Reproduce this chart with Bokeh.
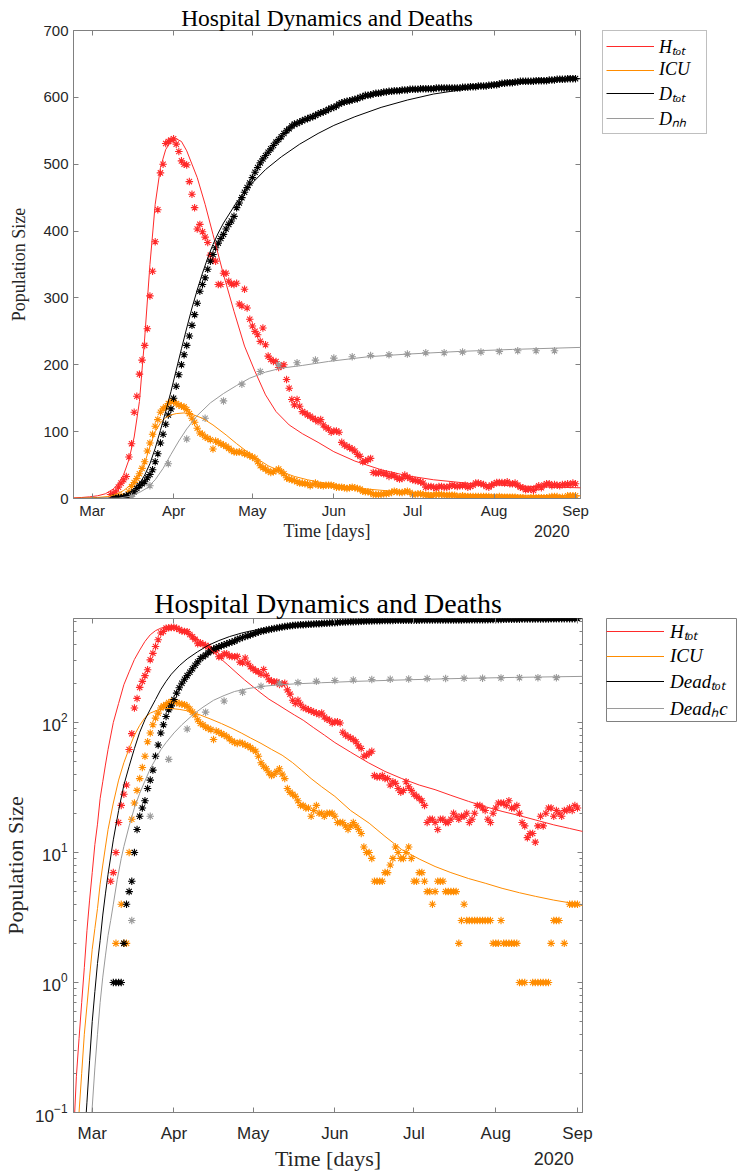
from datetime import datetime, timedelta
from bokeh.plotting import figure
from bokeh.models import (ColumnDataSource, Range1d, FixedTicker, LinearAxis, LogAxis,
                          DatetimeAxis, Legend, LegendItem, Title, DatetimeTickFormatter)
from bokeh.layouts import column, row
from bokeh.embed import file_html
from bokeh.resources import INLINE

# ---------------- data ----------------
BASE = datetime(2020, 3, 1)          # day 0 = 1 March 2020
month_starts = ["2020-03-01", "2020-04-01", "2020-05-01", "2020-06-01",
                "2020-07-01", "2020-08-01", "2020-09-01"]
month_labels = ["Mar", "Apr", "May", "Jun", "Jul", "Aug", "Sep"]
year_label = "2020"
year_label_at = "2020-08-23"
lin_yticks = [0, 100, 200, 300, 400, 500, 600, 700]
log_yticks = [0.1, 1, 10, 100]

# daily observations (first day offset from 1 March)
h_tot_start = 7
h_tot = [6, 7, 10, 17, 23, 28, 33, 62, 82, 129,
         153, 186, 207, 229, 254, 303, 340, 384, 432, 487,
         500, 531, 534, 536, 538, 530, 519, 505, 500, 499,
         474, 455, 435, 403, 410, 399, 391, 383, 364, 356,
         355, 320, 320, 337, 337, 325, 321, 320, 322, 291,
         288, 313, 285, 268, 258, 250, 245, 235, 255, 230,
         213, 208, 205, 205, 196, 198, 200, 178, 165, 148,
         140, 148, 138, 130, 128, 125, 123, 120, 118, 115,
         118, 110, 106, 104, 99, 101, 101, 99, 84, 80,
         78, 76, 74, 71, 66, 63, 55, 56, 58, 60,
         39, 38, 38, 39, 37, 37, 33, 35, 34, 31,
         29, 30, 35, 32, 30, 28, 27, 26, 25, 23,
         17, 18, 18, 17, 15, 18, 18, 17, 17, 18,
         20, 19, 18, 19, 19, 20, 17, 18, 20, 23,
         23, 22, 21, 18, 17, 20, 22, 24, 24, 24,
         23, 25, 22, 22, 23, 20, 17, 16, 13, 14,
         14, 12, 16, 19, 16, 20, 22, 22, 19, 21,
         20, 19, 21, 21, 22, 21, 23, 22]

icu_start = 9
icu = [2, 0, 4, 2, 2, 10, 18, 24, 30, 37,
       45, 55, 71, 83, 96, 108, 118, 129, 134, 137,
       142, 145, 145, 142, 140, 138, 137, 133, 127, 120,
       114, 105, 98, 96, 92, 90, 88, 74, 86, 84,
       82, 80, 78, 75, 72, 70, 69, 70, 69, 67,
       66, 64, 62, 60, 55, 49, 46, 44, 41, 39,
       40, 42, 44, 40, 37, 31, 29, 28, 27, 25,
       23, 23, 22, 22, 19, 21, 23, 20, 20, 19,
       20, 20, 20, 19, 17, 17, 17, 16, 15, 16,
       17, 16, 15, 14, 11, 10, 10, 9, 6, 6,
       6, 6, 7, 7, 8, 9, 11, 10, 9, 9,
       10, 11, 9, 6, 6, 7, 7, 6, 5, 5,
       4, 5, 6, 6, 6, 5, 5, 5, 5, 5,
       2, 3, 4, 3, 3, 3, 3, 3, 3, 3,
       3, 3, 3, 2, 2, 2, 3, 2, 2, 2,
       2, 2, 2, 1, 1, 1, 0, 0, 1, 1,
       1, 1, 1, 1, 1, 2, 3, 3, 3, 0,
       2, 0, 4, 4, 4, 4]

d_tot_start = 8
d_tot = [1, 1, 1, 1, 2, 4, 5, 6, 10, 15,
         19, 22, 25, 31, 36, 43, 55, 67, 83, 96,
         111, 125, 134, 150, 168, 185, 200, 215, 229, 243,
         259, 275, 292, 310, 320, 330, 343, 355, 365, 375,
         382, 389, 395, 403, 410, 415, 422, 435, 442, 450,
         458, 465, 472, 480, 488, 495, 502, 508, 513, 518,
         523, 528, 533, 537, 541, 546, 550, 553, 557, 560,
         561, 563, 565, 567, 568, 570, 571, 573, 575, 577,
         578, 580, 582, 584, 585, 587, 590, 592, 593, 594,
         595, 596, 597, 598, 600, 601, 603, 603, 604, 605,
         606, 606, 607, 608, 608, 609, 609, 610, 610, 610,
         611, 611, 611, 612, 612, 612, 612, 613, 613, 613,
         613, 613, 613, 614, 614, 614, 614, 614, 614, 614,
         614, 614, 614, 615, 615, 615, 616, 616, 616, 617,
         617, 617, 617, 618, 618, 619, 619, 620, 621, 621,
         622, 622, 622, 623, 623, 624, 624, 624, 624, 624,
         624, 625, 625, 625, 625, 625, 626, 626, 626, 627,
         627, 627, 627, 628, 628, 628, 628]

# weekly deaths outside hospital
d_nh_days = [15, 22, 29, 36, 43, 50, 57, 64, 71, 78, 85, 92,
             99, 106, 113, 120, 127, 134, 141, 148, 155, 162, 169, 176]
d_nh = [3, 19, 52, 89, 120, 146, 171, 190, 200, 203, 207, 210,
        212, 214, 215, 216, 218, 218, 219, 219, 220, 221, 221, 221]

# model curves, upper (linear) panel
top_h_days = [-7, -4, -1, 2, 5, 8, 10, 12, 14, 16, 18, 20, 22, 24, 26, 28, 30, 32, 34, 36, 38, 40,
              43, 46, 50, 54, 58, 62, 66, 70, 75, 80, 86, 92, 100, 110, 120, 130, 145, 160, 175, 186]
top_h_vals = [1, 1.5, 2.5, 4, 7, 14, 22, 36, 58, 92, 145, 240, 350, 440, 495, 522, 534, 538, 534, 520,
              500, 480, 440, 395, 335, 280, 228, 190, 155, 130, 110, 97, 84, 70, 56, 43, 34, 28,
              22, 19, 17, 16]
top_icu_days = [-7, -2, 2, 6, 9, 12, 14, 16, 18, 20, 22, 24, 26, 28, 30, 32, 35, 38, 42, 46, 51, 55,
                59, 63, 67, 72, 77, 82, 87, 92, 100, 105, 117, 130, 145, 160, 175, 186]
top_icu_vals = [0.3, 0.8, 1.5, 3, 6, 12, 18, 27, 38, 53, 78, 100, 113, 121, 125, 127, 128, 126, 120,
                110, 95, 82, 70, 59, 49, 40, 33, 28, 24, 21, 16, 14, 10, 8, 6, 5, 4.3, 4]
top_dtot_days = [-7, 6, 10, 14, 18, 20, 22, 24, 26, 28, 30, 32, 34, 36, 38, 40, 42, 44, 46, 48, 50,
                 55, 60, 66, 72, 79, 86, 92, 100, 110, 120, 130, 145, 160, 175, 186]
top_dtot_vals = [0, 0.5, 2, 8, 22, 35, 52, 75, 102, 130, 160, 192, 224, 255, 285, 312, 337, 360,
                 380, 397, 412, 443, 468, 492, 511, 530, 546, 558, 571, 585, 596, 605, 614, 620,
                 625, 628]
top_dnh_days = [-7, 10, 14, 18, 21, 24, 27, 30, 33, 36, 40, 45, 50, 55, 60, 66, 72, 80, 90, 105,
                120, 140, 160, 186]
top_dnh_vals = [0, 0.5, 3, 9, 16, 28, 45, 66, 86, 104, 124, 143, 157, 169, 180, 189, 195, 199, 205,
                212, 216, 220, 223, 226]

# model curves, lower (log) panel
bot_h_days = [-7, -6, -5, -4, -3, -2, -1, 0, 1, 2, 3, 4, 5, 6, 8, 10, 12, 14, 16, 18, 20, 22, 24, 26,
              28, 30, 32, 35, 38.7, 42, 45, 48, 51.4, 54.5, 57.7, 61, 64, 67, 70.4, 73.5, 76.7, 80,
              84, 88, 92, 98, 104.7, 111, 117.4, 124, 130, 136, 142.7, 149, 155.4, 162, 168, 175,
              181, 186]
bot_h_vals = [0.07, 0.19, 0.37, 0.7, 1.3, 2.5, 4.3, 7, 11.5, 16.5, 26, 35, 47, 62, 100, 140, 195,
              245, 305, 360, 420, 472, 508, 531, 542, 545, 538, 510, 458, 410, 363, 318, 277, 243,
              213, 188, 168, 151, 137, 125, 114, 104, 91, 80, 70, 59, 49, 42, 37, 33, 30.4, 27.5,
              24.7, 22.5, 20.7, 19.2, 17.8, 16.3, 15.3, 14.5]
bot_icu_days = [-6, -5, -4, -3, -2, -1, 0, 1, 2, 3, 4, 5, 6, 8, 10, 12, 14, 16, 18, 20, 22, 25, 28,
                30, 33, 36, 41, 45, 49, 53, 56.5, 60, 64, 68, 72, 76, 79.3, 83, 87, 92, 98, 105, 111,
                117.4, 124, 130, 136, 142.7, 149, 155.4, 162, 168, 175, 181, 186]
bot_icu_vals = [0.05, 0.1, 0.2, 0.4, 0.66, 1.1, 1.8, 2.6, 3.7, 5.7, 8, 11, 15, 24, 36, 49, 63, 80,
                95, 109, 118, 125, 128, 128, 126, 123, 114, 106, 98, 90, 83, 76, 69, 62, 56, 49, 43,
                37, 32, 27, 21, 16.8, 13.3, 10.5, 8.9, 7.8, 7, 6.3, 5.8, 5.3, 4.9, 4.6, 4.3, 4.1, 3.9]
bot_dtot_days = [-3, -2, -1, 0, 1, 2, 3, 4, 5, 6, 8, 10, 12, 14, 16, 18, 20, 22, 24, 26, 28, 30, 33,
                 36, 40, 44, 48, 52, 56.5, 60, 64, 70, 76.7, 82, 87, 95, 105, 120, 140, 160, 186]
bot_dtot_vals = [0.06, 0.12, 0.25, 0.5, 0.85, 1.4, 2.1, 3.3, 4.8, 6.8, 12.5, 21, 33, 46, 63, 84, 105,
                 126, 150, 179, 207, 235, 273, 308, 350, 392, 426, 457, 486, 505, 522, 543, 564, 577,
                 588, 599, 609, 617, 623, 626, 629]
bot_dhc_days = [-1, 0, 1, 2, 3, 4, 5, 6, 7, 8, 9.5, 11, 12, 14, 16, 18, 20, 22, 24, 26, 28, 31, 34,
                38.7, 42, 46, 50, 54, 59, 64, 70, 77, 87, 100, 120, 140, 160, 186]
bot_dhc_vals = [0.05, 0.11, 0.22, 0.4, 0.7, 1.1, 1.6, 2.3, 3.0, 4.0, 6.2, 9, 11.1, 16, 22, 28.5, 35.5,
                44, 52, 61.7, 70, 83, 96, 117, 131, 148, 161, 173, 182, 189, 194, 198, 202, 207,
                213, 218, 222, 226]

# ---------------- styling ----------------
RED = "#ff2a2a"
ORANGE = "#ff8c00"
BLACK = "#000000"
GRAY = "#9a9a9a"
COLORS = [RED, ORANGE, BLACK, GRAY]
AXIS_COLOR = "#808080"
TEXT_COLOR = "#262626"
SANS = "Liberation Sans"
SERIF = "Liberation Serif"


def dts(days):
    return [BASE + timedelta(days=float(d)) for d in days]


def ms(s):
    return (datetime.fromisoformat(s) - datetime(1970, 1, 1)).total_seconds() * 1000.0


month_ms = [ms(s) for s in month_starts]
year_ms = ms(year_label_at)
log_minor = [m * 10.0 ** e for e in (-1, 0, 1, 2) for m in range(2, 10) if m * 10.0 ** e < 640]


def month_formatter():
    return DatetimeTickFormatter(days="%b", months="%b", years="%b", hours="%b",
                                 hourmin="%b", minutes="%b", minsec="%b", seconds="%b")


def series(start, vals, positive_only=False):
    days = list(range(start, start + len(vals)))
    if positive_only:
        pairs = [(d, v) for d, v in zip(days, vals) if v > 0]
        days = [p[0] for p in pairs]
        vals = [p[1] for p in pairs]
    return ColumnDataSource(dict(x=dts(days), y=vals))


def style_axis(ax, tick_size, label_size, label_standoff, major_standoff):
    ax.axis_line_color = AXIS_COLOR
    ax.major_tick_line_color = AXIS_COLOR
    ax.minor_tick_line_color = AXIS_COLOR
    ax.major_tick_in = 5
    ax.major_tick_out = 0
    ax.minor_tick_in = 3
    ax.minor_tick_out = 0
    ax.major_label_text_font = SANS
    ax.major_label_text_font_size = f"{tick_size}px"
    ax.major_label_text_color = TEXT_COLOR
    ax.major_label_standoff = major_standoff
    ax.axis_label_text_font = SERIF
    ax.axis_label_text_font_style = "normal"
    ax.axis_label_text_font_size = f"{label_size}px"
    ax.axis_label_text_color = TEXT_COLOR
    ax.axis_label_standoff = label_standoff


def ghost_axis(ax):
    ax.axis_line_color = None
    ax.major_tick_line_color = AXIS_COLOR
    ax.minor_tick_line_color = AXIS_COLOR
    ax.major_tick_in = 5
    ax.major_tick_out = 0
    ax.minor_tick_in = 3
    ax.minor_tick_out = 0
    ax.major_label_text_font_size = "1px"
    ax.major_label_text_color = None
    ax.major_label_standoff = 0


def make_panel(log, frame_w, frame_h, mbl, mbr, mbt, mbb, title, title_size, tick_size,
               label_size, models, year_size, year_standoff, ylab_standoff, xlab_standoff,
               ytick_standoff, xtick_standoff):
    x_range = Range1d(start=BASE - timedelta(days=7.1), end=BASE + timedelta(days=185.9))
    y_range = Range1d(start=0.1, end=630) if log else Range1d(start=0, end=700)
    p = figure(frame_width=frame_w, frame_height=frame_h, x_axis_type="datetime",
               y_axis_type="log" if log else "linear",
               x_range=x_range, y_range=y_range,
               min_border_left=mbl, min_border_right=mbr, min_border_top=mbt,
               min_border_bottom=mbb, output_backend="svg", toolbar_location=None,
               background_fill_color="white", border_fill_color="white")
    p.grid.visible = False
    p.outline_line_color = AXIS_COLOR
    p.outline_line_width = 1

    p.title = Title(text=title, align="center", text_font=SERIF, text_font_style="normal",
                    text_font_size=f"{title_size}px", text_color="#000000", standoff=0)

    # main axes
    p.xaxis.ticker = FixedTicker(ticks=month_ms)
    p.xaxis.formatter = month_formatter()
    p.xaxis.axis_label = "Time [days]"
    style_axis(p.xaxis[0], tick_size, label_size, xlab_standoff, xtick_standoff)
    if log:
        p.yaxis.ticker = FixedTicker(ticks=log_yticks, minor_ticks=log_minor)
    else:
        p.yaxis.ticker = FixedTicker(ticks=lin_yticks)
    p.yaxis.axis_label = "Population Size"
    style_axis(p.yaxis[0], tick_size, label_size, ylab_standoff, ytick_standoff)

    # year label under the last month, on the row of the axis title
    year_ax = LinearAxis(ticker=FixedTicker(ticks=[year_ms]),
                         major_label_overrides={year_ms: year_label})
    year_ax.axis_line_color = None
    year_ax.major_tick_line_color = None
    year_ax.minor_tick_line_color = None
    year_ax.major_tick_out = 0
    year_ax.major_tick_in = 0
    year_ax.major_label_text_font = SANS
    year_ax.major_label_text_font_size = f"{year_size}px"
    year_ax.major_label_text_color = TEXT_COLOR
    year_ax.major_label_standoff = year_standoff
    p.add_layout(year_ax, "below")

    # box ticks (top / right)
    top_ax = DatetimeAxis(ticker=FixedTicker(ticks=month_ms))
    ghost_axis(top_ax)
    p.add_layout(top_ax, "above")
    if log:
        right_ax = LogAxis(ticker=FixedTicker(ticks=log_yticks, minor_ticks=log_minor))
    else:
        right_ax = LinearAxis(ticker=FixedTicker(ticks=lin_yticks))
    ghost_axis(right_ax)
    p.add_layout(right_ax, "right")

    # observations
    ms_kw = dict(marker="asterisk", size=7.5, line_width=1.1)
    p.scatter("x", "y", source=series(h_tot_start, h_tot, log), line_color=RED, **ms_kw)
    p.scatter("x", "y", source=series(icu_start, icu, log), line_color=ORANGE, **ms_kw)
    p.scatter("x", "y", source=series(d_tot_start, d_tot, log), line_color=BLACK, **ms_kw)
    p.scatter("x", "y", source=ColumnDataSource(dict(x=dts(d_nh_days), y=d_nh)),
              line_color=GRAY, **ms_kw)

    # model curves
    for (days, vals), color in zip(models, COLORS):
        p.line(dts(days), vals, line_color=color, line_width=1)
    return p


def style_legend(legend, font, glyph_w, item_h, spacing, standoff, label_w):
    legend.label_text_font = SERIF
    legend.label_text_font_style = "italic"
    legend.label_text_font_size = f"{font}px"
    legend.label_text_color = "#000000"
    legend.glyph_width = glyph_w
    legend.glyph_height = item_h
    legend.label_height = item_h
    legend.label_width = label_w
    legend.spacing = spacing
    legend.padding = 3
    legend.margin = 0
    legend.label_standoff = standoff


def make_legend_fig_boxed(width, height, top, labels, font, glyph_w, item_h, spacing,
                          standoff, label_w):
    # legend with its own border, keys hidden under the opaque legend box
    lf = figure(width=width, height=height, x_range=Range1d(0, 1), y_range=Range1d(0, 1),
                min_border_left=0, min_border_right=0, min_border_top=top, min_border_bottom=0,
                x_axis_location=None, y_axis_location=None, output_backend="svg",
                toolbar_location=None, background_fill_color="white",
                border_fill_color="white", outline_line_color=None)
    lf.grid.visible = False
    items = []
    for i, lab in enumerate(labels):
        r = lf.segment(x0=[0.02], y0=[0.99], x1=[0.04], y1=[0.99],
                       line_color=COLORS[i], line_width=1.2)
        items.append(LegendItem(label=lab, renderers=[r]))
    legend = Legend(items=items, location="top_left")
    style_legend(legend, font, glyph_w, item_h, spacing, standoff, label_w)
    legend.border_line_color = AXIS_COLOR
    legend.border_line_width = 1
    legend.background_fill_color = "white"
    legend.background_fill_alpha = 1.0
    lf.add_layout(legend)
    return lf


def make_legend_fig_framed(box_w, box_h, top, labels, font, glyph_w, item_h, spacing,
                           standoff, label_w):
    # the frame of this small figure is the legend box (drawn by its outline)
    lf = figure(frame_width=box_w, frame_height=box_h, x_range=Range1d(0, 1),
                y_range=Range1d(0, 1), min_border_left=0, min_border_right=8,
                min_border_top=top, min_border_bottom=2,
                x_axis_location=None, y_axis_location=None, output_backend="svg",
                toolbar_location=None, background_fill_color="white",
                border_fill_color="white", outline_line_color=AXIS_COLOR,
                outline_line_width=1)
    lf.grid.visible = False
    items = []
    for i, lab in enumerate(labels):
        r = lf.segment(x0=[2.0], y0=[2.0], x1=[3.0], y1=[2.0],
                       line_color=COLORS[i], line_width=1.2)
        items.append(LegendItem(label=lab, renderers=[r]))
    legend = Legend(items=items, location="top_left")
    style_legend(legend, font, glyph_w, item_h, spacing, standoff, label_w)
    legend.border_line_color = None
    legend.background_fill_alpha = 0.0
    lf.add_layout(legend)
    return lf


p1 = make_panel(
    log=False, frame_w=507, frame_h=468, mbl=73, mbr=22, mbt=29, mbb=46,
    title="Hospital Dynamics and Deaths", title_size=23.5, tick_size=15, label_size=18,
    models=[(top_h_days, top_h_vals), (top_icu_days, top_icu_vals),
            (top_dtot_days, top_dtot_vals), (top_dnh_days, top_dnh_vals)],
    year_size=16, year_standoff=-19, ylab_standoff=11, xlab_standoff=-1,
    ytick_standoff=5, xtick_standoff=3)
leg1 = make_legend_fig_boxed(135, 540, 30,
                             ["H\u209c\u2092\u209c", "ICU", "D\u209c\u2092\u209c",
                              "D\u2099\u2095"],
                             18, 48, 20, 1, 5, 44)

p2 = make_panel(
    log=True, frame_w=509, frame_h=494, mbl=72, mbr=24, mbt=75, mbb=50,
    title="Hospital Dynamics and Deaths", title_size=28, tick_size=17, label_size=22,
    models=[(bot_h_days, bot_h_vals), (bot_icu_days, bot_icu_vals),
            (bot_dtot_days, bot_dtot_vals), (bot_dhc_days, bot_dhc_vals)],
    year_size=18, year_standoff=-22, ylab_standoff=4, xlab_standoff=0,
    ytick_standoff=6, xtick_standoff=11)
leg2 = make_legend_fig_framed(130, 103, 75,
                              ["H\u209c\u2092\u209c", "ICU", "Dead\u209c\u2092\u209c",
                               "Dead\u2095c"],
                              19, 58, 20, 1, 6, 50)

layout = column(row(p1, leg1, spacing=0), row(p2, leg2, spacing=0), spacing=0)
open("out.html", "w").write(file_html(layout, INLINE))
